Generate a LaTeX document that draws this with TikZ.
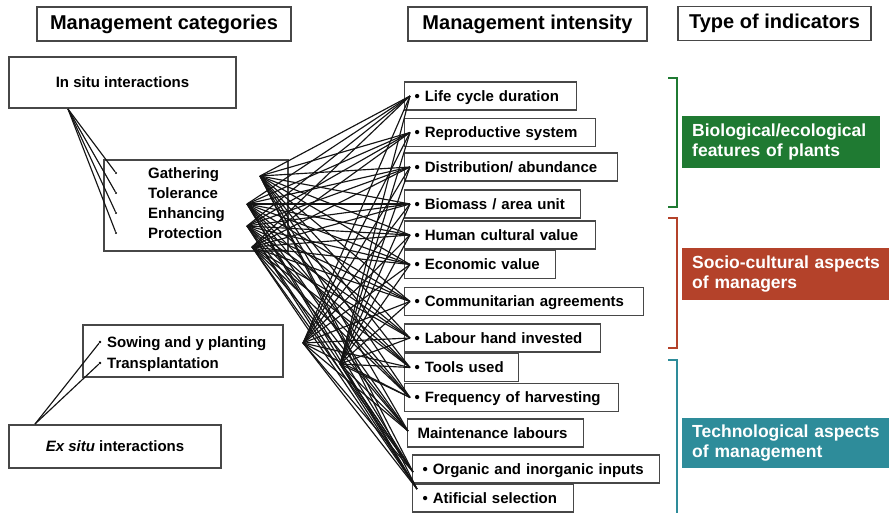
\documentclass[tikz,border=0pt]{standalone}
\usepackage{fontspec}
\setmainfont{Liberation Sans}
\definecolor{cgreen}{RGB}{31,122,50}
\definecolor{cred}{RGB}{180,66,42}
\definecolor{cteal}{RGB}{46,140,154}
\begin{document}
\begin{tikzpicture}[x=1pt,y=-1pt,
  box/.style={draw=black!72, line width=1.1pt, inner sep=0pt},
  hdr/.style={box, font=\bfseries\fontsize{20}{22}\selectfont, minimum height=34pt},
  ibox/.style={box, anchor=west, minimum height=28pt, inner xsep=10pt, align=left, text height=11pt, text depth=0.4pt, font=\bfseries\fontsize{15}{17}\selectfont},
  itxt/.style={anchor=west, inner sep=0pt, text height=11pt, text depth=0.4pt, font=\bfseries\fontsize{15}{17}\selectfont},
  cbox/.style={anchor=north west, inner xsep=10pt, inner ysep=0pt, align=left, text=white, font=\bfseries\fontsize{17.5}{20}\selectfont},
  web/.style={line width=1.15pt, black!92},
  dotb/.style={circle, fill=black, inner sep=0pt, minimum size=2.8pt},
  brk/.style={line width=2.4pt}]
\useasboundingbox (0,0) rectangle (889,512);

% headers
\node[hdr, minimum width=254pt] (h1) at (164,24) {Management categories};
\node[hdr, minimum width=239pt] (h2) at (527.5,24) {Management intensity};
\node[hdr, minimum width=193pt] (h3) at (774.5,23.5) {Type of indicators};

% left boxes
\node[box, minimum width=227pt, minimum height=51pt, font=\bfseries\fontsize{15}{17}\selectfont] (insitu) at (122.5,82.5) {In situ interactions};
\node[box, minimum width=184pt, minimum height=91pt] (catbox) at (196,205.5) {};
\node[itxt] (g1) at (148,173) {Gathering};
\node[itxt] (g2) at (148,193) {Tolerance};
\node[itxt] (g3) at (148,213) {Enhancing};
\node[itxt] (g4) at (148,233) {Protection};
\node[dotb, minimum size=2.4pt] (b1) at (116,173) {};
\node[dotb, minimum size=2.4pt] (b2) at (116,193) {};
\node[dotb, minimum size=2.4pt] (b3) at (116,213) {};
\node[dotb, minimum size=2.4pt] (b4) at (116,233) {};

\node[box, minimum width=200pt, minimum height=52pt] (sowbox) at (183,351) {};
\node[itxt] (w1) at (107,342) {Sowing and y planting};
\node[itxt] (w2) at (107,363) {Transplantation};
\node[dotb] (d1) at (100,342) {};
\node[dotb] (d2) at (100,363) {};

\node[box, minimum width=212pt, minimum height=43pt, font=\bfseries\fontsize{15}{17}\selectfont] (exsitu) at (115,446.5) {\textit{Ex situ} interactions};

\coordinate (isx) at (68,109);
\coordinate (esx) at (35,424);
\foreach \k in {1,2,3,4} \draw[web] (isx) -- (b\k);
\draw[web] (esx) -- (d1);
\draw[web] (esx) -- (d2);

% intensity boxes
\node[ibox, text width=152pt] (t1) at (404,96) {• Life cycle duration};
\node[ibox, text width=171pt] (t2) at (404,132.5) {• Reproductive system};
\node[ibox, text width=193pt] (t3) at (404,167) {• Distribution/ abundance};
\node[ibox, text width=156pt] (t4) at (404,204) {• Biomass / area unit};
\node[ibox, text width=171pt] (t5) at (404,235) {• Human cultural value};
\node[ibox, text width=131pt] (t6) at (404,264.5) {• Economic value};
\node[ibox, text width=219pt] (t7) at (404,301.5) {• Communitarian agreements};
\node[ibox, text width=176pt] (t8) at (404,338) {• Labour hand invested};
\node[ibox, text width=94pt] (t9) at (404,367.5) {• Tools used};
\node[ibox, text width=194pt] (t10) at (404,397.5) {• Frequency of harvesting};
\node[ibox, text width=156pt] (t11) at (407,433) {Maintenance labours};
\node[ibox, text width=227pt] (t12) at (412,469) {• Organic and inorganic inputs};
\node[ibox, text width=141pt] (t13) at (412,498) {• Atificial selection};

% web connectors
\coordinate (s1) at (260,176);
\coordinate (s2) at (247,204);
\coordinate (s3) at (247,226);
\coordinate (s4) at (252,247);
\coordinate (s5) at (303,343);
\coordinate (s6) at (340,364);
\coordinate (e1) at (410,96);
\coordinate (e2) at (410,132.5);
\coordinate (e3) at (410,167);
\coordinate (e4) at (410,204);
\coordinate (e5) at (410,235);
\coordinate (e6) at (410,264.5);
\coordinate (e7) at (410,301.5);
\coordinate (e8) at (410,338);
\coordinate (e9) at (410,367.5);
\coordinate (e10) at (410,397.5);
\coordinate (e11) at (408,431);
\coordinate (e12) at (413,472);
\coordinate (e13) at (417,489);
\foreach \i in {1,...,6} {
  \foreach \j in {1,...,13} {
    \draw[web] (s\i) -- (e\j);
  }
}

% brackets
\draw[brk, cgreen] (668,78) -- (677,78) -- (677,207) -- (668,207);
\draw[brk, cred] (668,218) -- (677,218) -- (677,348) -- (668,348);
\draw[brk, cteal] (668,360) -- (677,360) -- (677,520);

% indicator boxes
\node[cbox, fill=cgreen, text width=178pt, minimum height=52pt] (c1) at (682,116) {Biological/ecological\\features of plants};
\node[cbox, fill=cred, text width=200pt, minimum height=52pt] (c2) at (682,248) {Socio-cultural aspects\\of managers};
\node[cbox, fill=cteal, text width=200pt, minimum height=50pt] (c3) at (682,418) {Technological aspects\\of management};
\end{tikzpicture}
\end{document}
